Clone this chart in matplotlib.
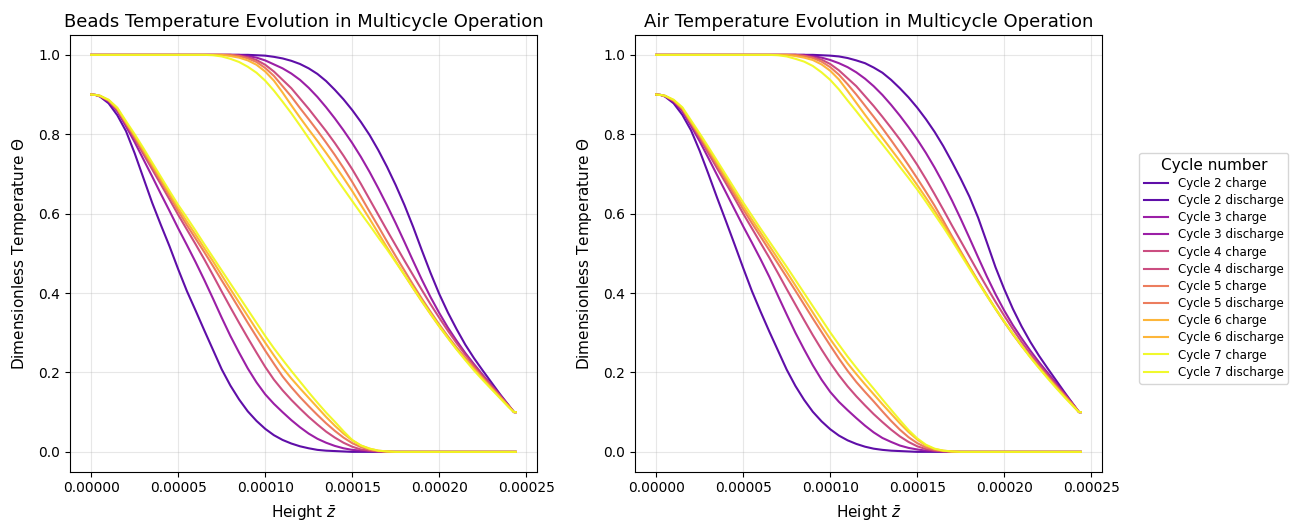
import matplotlib
matplotlib.use('Agg')
import matplotlib.pyplot as plt
import numpy as np

# heights are written in units of 1e-5 (dimensionless z)
z_charge = [0, 0.25, 0.5, 1, 1.5, 2, 2.5, 3, 3.5, 4, 4.5, 5, 5.5, 6, 6.5, 7, 7.5, 8, 8.5, 9,
            9.5, 10, 10.5, 11, 11.5, 12, 12.5, 13, 13.5, 14, 14.5, 15, 15.5, 16, 16.5, 17, 17.5, 18, 24.4]
z_discharge = [0, 5, 6, 6.5, 7, 7.5, 8, 8.5, 9, 9.5, 10, 10.5, 11, 11.5, 12, 12.5, 13, 13.5, 14,
               14.5, 15, 15.5, 16, 16.5, 17, 17.5, 18, 18.5, 19, 19.5, 20, 20.5, 21, 21.5, 22,
               22.5, 23, 23.5, 24, 24.3, 24.4]

cycles = [2, 3, 4, 5, 6, 7]

# beads, end of charge
beads_c2 = [.900, .899, .895, .878, .848, .808, .752, .69, .628, .572, .518, .46, .405, .356, .306, .257,
            .208, .167, .132, .102, .078, .058, .042, .03, .021, .014, .009, .005, .003, .002, .001,
            0, 0, 0, 0, 0, 0, 0, 0]
beads_c3 = [.900, .899, .896, .882, .858, .82, .78, .737, .694, .65, .607, .563, .521, .478, .433, .386,
            .338, .292, .25, .21, .175, .145, .121, .10, .08, .062, .046, .033, .023, .015, .009,
            .005, .003, .002, .001, 0, 0, 0, 0]
beads_c4 = [.900, .899, .896, .884, .861, .825, .788, .75, .712, .674, .636, .597, .56, .523, .485, .445,
            .404, .364, .325, .287, .25, .214, .182, .155, .131, .109, .088, .069, .051, .036, .023,
            .013, .006, .003, .001, 0, 0, 0, 0]
beads_c5 = [.900, .899, .897, .885, .863, .828, .793, .756, .719, .682, .645, .607, .571, .537, .503, .468,
            .432, .397, .361, .325, .29, .255, .222, .19, .163, .138, .115, .093, .072, .053, .036,
            .022, .012, .005, .002, .001, 0, 0, 0]
beads_c6 = [.900, .899, .897, .886, .865, .83, .796, .76, .724, .687, .65, .614, .58, .547, .513, .48,
            .445, .41, .376, .342, .308, .275, .243, .212, .185, .16, .136, .112, .088, .066, .046,
            .029, .016, .008, .003, .001, 0, 0, 0]
beads_c7 = [.900, .899, .897, .887, .867, .833, .80, .765, .729, .693, .657, .622, .59, .557, .523, .49,
            .457, .424, .391, .358, .325, .292, .261, .232, .204, .177, .15, .124, .099, .076, .052,
            .03, .016, .008, .003, .001, 0, 0, 0]

# beads, end of discharge
beads_d2 = [1, 1, 1, 1, 1, 1, 1, 1, 1, .999, .998, .995, .991, .985, .977, .966, .952, .934, .912,
            .888, .861, .831, .798, .76, .718, .672, .622, .567, .508, .451, .398, .351, .309, .27,
            .236, .205, .175, .145, .117, .10, .10]
beads_d3 = [1, 1, 1, 1, 1, 1, 1, 1, .997, .993, .986, .976, .966, .953, .937, .917, .894, .868, .84,
            .81, .778, .743, .705, .664, .621, .576, .529, .481, .434, .39, .35, .313, .28, .249,
            .221, .194, .168, .142, .116, .10, .10]
beads_d4 = [1, 1, 1, 1, 1, 1, 1, .998, .994, .987, .975, .958, .937, .916, .89, .864, .836, .808, .778,
            .746, .712, .675, .636, .597, .558, .52, .482, .445, .408, .372, .338, .305, .274, .245,
            .218, .192, .167, .142, .116, .10, .10]
beads_d5 = [1, 1, 1, 1, 1, 1, 1, .997, .991, .982, .967, .947, .921, .895, .866, .838, .809, .779, .748,
            .715, .68, .643, .605, .568, .53, .493, .457, .421, .386, .353, .321, .291, .263, .237,
            .212, .187, .163, .139, .115, .10, .10]
beads_d6 = [1, 1, 1, 1, 1, 1, .997, .993, .986, .975, .958, .935, .905, .873, .842, .812, .783, .753,
            .722, .69, .657, .622, .587, .551, .515, .48, .446, .412, .379, .347, .316, .287, .259,
            .233, .208, .184, .16, .137, .114, .10, .10]
beads_d7 = [1, 1, 1, 1, .999, .996, .99, .982, .97, .955, .935, .91, .882, .853, .822, .79, .758, .726,
            .694, .663, .632, .601, .571, .54, .51, .478, .446, .413, .38, .348, .317, .287, .258,
            .231, .205, .181, .158, .135, .112, .10, .10]

# air, end of charge
air_c2 = [.900, .899, .895, .878, .849, .81, .758, .70, .64, .582, .523, .463, .405, .353, .303, .255,
          .207, .166, .131, .101, .077, .057, .041, .029, .02, .013, .008, .005, .003, .002, .001,
          0, 0, 0, 0, 0, 0, 0, 0]
air_c3 = [.900, .899, .896, .882, .858, .821, .782, .74, .697, .654, .611, .568, .527, .485, .441, .393,
          .346, .30, .258, .218, .182, .151, .126, .105, .085, .066, .049, .035, .025, .016, .01,
          .006, .003, .002, .001, 0, 0, 0, 0]
air_c4 = [.900, .899, .896, .884, .862, .826, .79, .752, .714, .677, .639, .60, .563, .526, .489, .45,
          .41, .371, .332, .294, .258, .224, .193, .165, .14, .117, .095, .075, .056, .039, .025,
          .014, .007, .003, .001, 0, 0, 0, 0]
air_c5 = [.900, .899, .897, .885, .864, .829, .795, .758, .722, .685, .648, .611, .576, .542, .508, .474,
          .44, .406, .371, .336, .302, .268, .235, .204, .176, .151, .127, .102, .078, .056, .037,
          .022, .011, .005, .002, .001, 0, 0, 0]
air_c6 = [.900, .899, .897, .886, .866, .831, .798, .763, .727, .691, .655, .619, .585, .552, .519, .486,
          .453, .419, .385, .351, .317, .284, .253, .223, .196, .17, .145, .12, .096, .072, .05,
          .031, .016, .007, .003, .001, 0, 0, 0]
air_c7 = [.900, .899, .897, .887, .868, .835, .802, .768, .733, .698, .663, .628, .595, .562, .53, .498,
          .466, .433, .40, .367, .334, .301, .27, .24, .212, .185, .159, .132, .106, .08, .055,
          .034, .018, .008, .003, .001, 0, 0, 0]

# air, end of discharge
air_d2 = [1, 1, 1, 1, 1, 1, 1, 1, 1, .999, .998, .996, .992, .986, .979, .968, .955, .937, .916,
          .893, .867, .838, .806, .77, .73, .688, .643, .59, .528, .465, .41, .36, .316, .277,
          .242, .21, .179, .148, .118, .10, .10]
air_d3 = [1, 1, 1, 1, 1, 1, 1, 1, .997, .993, .987, .979, .969, .956, .94, .921, .899, .874, .847,
          .818, .787, .753, .716, .676, .633, .587, .539, .49, .442, .397, .356, .319, .286, .255,
          .226, .199, .172, .145, .117, .10, .10]
air_d4 = [1, 1, 1, 1, 1, 1, 1, .998, .994, .988, .977, .961, .941, .921, .896, .871, .844, .816, .787,
          .756, .723, .687, .649, .61, .57, .531, .492, .453, .415, .378, .343, .309, .277, .247,
          .22, .194, .168, .143, .117, .10, .10]
air_d5 = [1, 1, 1, 1, 1, 1, 1, .997, .992, .983, .969, .95, .926, .90, .872, .844, .815, .785, .754,
          .722, .689, .655, .62, .582, .543, .505, .467, .43, .394, .36, .327, .296, .267, .24,
          .214, .189, .165, .14, .116, .10, .10]
air_d6 = [1, 1, 1, 1, 1, 1, .997, .993, .987, .976, .96, .938, .909, .879, .849, .82, .791, .762,
          .733, .703, .672, .64, .607, .573, .538, .502, .466, .43, .395, .361, .328, .297, .267,
          .239, .212, .187, .162, .138, .114, .10, .10]
air_d7 = [1, 1, 1, 1, .999, .996, .99, .983, .972, .956, .937, .913, .885, .858, .83, .802, .775, .747,
          .718, .69, .661, .63, .598, .566, .532, .497, .462, .427, .393, .36, .328, .297, .267,
          .238, .211, .185, .16, .136, .113, .10, .10]

beads_charge = [beads_c2, beads_c3, beads_c4, beads_c5, beads_c6, beads_c7]
beads_discharge = [beads_d2, beads_d3, beads_d4, beads_d5, beads_d6, beads_d7]
air_charge = [air_c2, air_c3, air_c4, air_c5, air_c6, air_c7]
air_discharge = [air_d2, air_d3, air_d4, air_d5, air_d6, air_d7]

zc = np.array(z_charge) * 1e-5
zd = np.array(z_discharge) * 1e-5
colors = plt.cm.plasma(np.linspace(0.15, 1.0, len(cycles)))

fig = plt.figure(figsize=(12.98, 5.24), dpi=100)
ax1 = fig.add_axes([0.0539, 0.0998, 0.3598, 0.8334])
ax2 = fig.add_axes([0.4892, 0.0998, 0.3598, 0.8334])

panels = [(ax1, beads_charge, beads_discharge, 'Beads Temperature Evolution in Multicycle Operation'),
          (ax2, air_charge, air_discharge, 'Air Temperature Evolution in Multicycle Operation')]

for ax, charge, discharge, title in panels:
    for i, n in enumerate(cycles):
        ax.plot(zc, charge[i], color=colors[i], lw=1.5, alpha=0.95, label='Cycle %d charge' % n)
        ax.plot(zd, discharge[i], color=colors[i], lw=1.5, alpha=0.95, label='Cycle %d discharge' % n)
    ax.set_title(title, fontsize=13)
    ax.set_xlabel(r'Height $\bar{z}$', fontsize=11, labelpad=6)
    ax.set_ylabel(r'Dimensionless Temperature $\Theta$', fontsize=11, labelpad=7)
    ax.grid(True, alpha=0.3)
    ax.set_xticks([0, 0.00005, 0.0001, 0.00015, 0.0002, 0.00025])
    ax.set_xticklabels(['0.00000', '0.00005', '0.00010', '0.00015', '0.00020', '0.00025'])

ax2.legend(title='Cycle number', fontsize=8.6, title_fontsize=11, labelspacing=0.35,
           loc='center left', bbox_to_anchor=(1.08, 0.466), borderaxespad=0)

fig.savefig('out.png', dpi=100)
